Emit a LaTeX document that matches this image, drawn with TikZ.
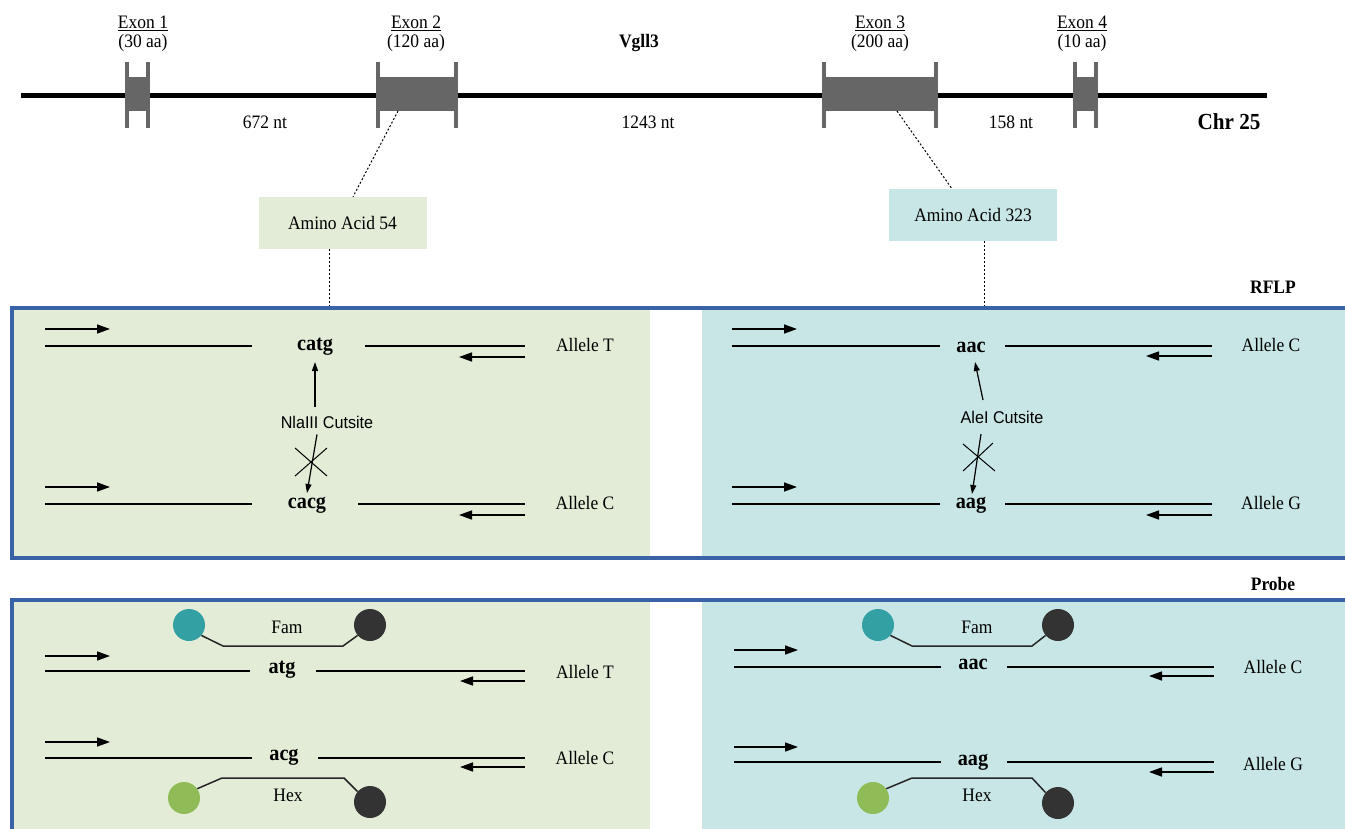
\documentclass[tikz,border=0pt]{standalone}
\usepackage{fontspec}
\setmainfont[FakeStretch=0.92]{Liberation Serif}
\newfontfamily\arialfont[FakeStretch=0.95]{Liberation Sans}
\usetikzlibrary{arrows.meta}
\definecolor{panelgreen}{HTML}{E2ECD6}
\definecolor{panelblue}{HTML}{C8E6E6}
\definecolor{frameblue}{HTML}{3A62A7}
\definecolor{exongray}{HTML}{666666}
\definecolor{famteal}{HTML}{33A0A3}
\definecolor{hexgreen}{HTML}{8FBC57}
\definecolor{quench}{HTML}{333333}
\begin{document}
\begin{tikzpicture}[x=1pt,y=-1pt,
  lbl/.style={font=\fontsize{19}{21}\selectfont, inner sep=0pt},
  blbl/.style={font=\fontsize{19}{21}\selectfont\bfseries, inner sep=0pt},
  chrlbl/.style={font=\fontsize{23}{25}\selectfont\bfseries, inner sep=0pt},
  seq/.style={font=\fontsize{22}{24}\selectfont\bfseries, inner sep=0pt},
  cutlbl/.style={font=\arialfont\fontsize{17}{19}\selectfont, inner sep=0pt},
  strand/.style={line width=1.5pt},
  primer/.style={line width=1.5pt,-{Triangle[length=13pt,width=9pt]}},
  cutarrow/.style={line width=1.2pt,-{Triangle[length=9pt,width=6pt]}},
  xmark/.style={line width=1pt},
  dotline/.style={line width=1pt, dash pattern=on 2pt off 2pt},
  aabox/.style={minimum height=52pt, inner sep=0pt, font=\fontsize{19}{21}\selectfont},
  probeline/.style={line width=1.5pt, draw=black!85},
  fam/.style={circle, fill=famteal, minimum size=32pt, inner sep=0pt},
  hex/.style={circle, fill=hexgreen, minimum size=32pt, inner sep=0pt},
  qdot/.style={circle, fill=quench, minimum size=32pt, inner sep=0pt},
  exonfill/.style={fill=exongray}
]
\useasboundingbox (0,0) rectangle (1345,828);
\fill[white] (0,0) rectangle (1345,828);
\clip (0,0) rectangle (1345,828);

% ---------------- gene model ----------------
\draw[line width=5pt] (21,95) coordinate (chrL) -- (1267,95) coordinate (chrR);
\foreach \a/\b in {125/150, 376/458, 822/938, 1073/1098}{
  \fill[exonfill] (\a,77) rectangle (\b,111);
  \fill[exonfill] (\a,62) rectangle (\a+4,128);
  \fill[exonfill] (\b-4,62) rectangle (\b,128);
}
\node[lbl] (ex1) at (143,23) {\underline{Exon 1}};
\node[lbl] (ex1a) at (143,43) {(30 aa)};
\node[lbl] (ex2) at (416,23) {\underline{Exon 2}};
\node[lbl] (ex2a) at (416,43) {(120 aa)};
\node[lbl] (ex3) at (880,23) {\underline{Exon 3}};
\node[lbl] (ex3a) at (880,43) {(200 aa)};
\node[lbl] (ex4) at (1082,23) {\underline{Exon 4}};
\node[lbl] (ex4a) at (1082,43) {(10 aa)};
\node[blbl] (gene) at (639,43) {Vgll3};
\node[lbl] (in1) at (265,122) {672 nt};
\node[lbl] (in2) at (648,122) {1243 nt};
\node[lbl] (in3) at (1011,122) {158 nt};
\node[chrlbl] (chr) at (1229,122) {Chr 25};

% amino acid boxes
\node[aabox, fill=panelgreen, minimum width=168pt] (aa54) at (342.5,223) {Amino Acid 54};
\node[aabox, fill=panelblue, minimum width=168pt] (aa323) at (973,215) {Amino Acid 323};
\coordinate (e2b) at (398,111);
\coordinate (e3b) at (897,111);
\draw[dotline] (e2b) -- (aa54.north -| 353,0);
\draw[dotline] (e3b) -- (aa323.north -| 952,0);
\coordinate (rflpTopL) at (329,308);
\coordinate (rflpTopR) at (984,308);
\draw[dotline] (aa54.south -| rflpTopL) -- (rflpTopL);
\draw[dotline] (aa323.south -| rflpTopR) -- (rflpTopR);

% ---------------- RFLP panel ----------------
\node[blbl] (rflp) at (1273,287) {RFLP};
\fill[panelgreen] (14,310) rectangle (650,556);
\fill[panelblue] (702,310) rectangle (1350,556);
\draw[frameblue, line width=4.5pt] (12,308) rectangle (1370,558);

% left RFLP
\draw[primer] (45,329) -- (110,329);
\draw[strand] (45,346) -- (252,346);
\node[seq] (s1) at (315,347) {catg};
\draw[strand] (365,346) -- (525,346);
\draw[primer] (525,357) -- (459,357);
\node[lbl] (al1) at (585,345) {Allele T};
\node[cutlbl] (cut1) at (327,422) {NlaIII Cutsite};
\draw[cutarrow] (cut1.north -| 315,0) ++(0,-9) -- (315,362);
\draw[cutarrow] ([xshift=-10pt,yshift=-6pt]cut1.south) -- (307,493);
\draw[xmark] (295,448) -- (327,476);
\draw[xmark] (295,476) -- (327,448);
\draw[primer] (45,487) -- (110,487);
\draw[strand] (45,504) -- (252,504);
\node[seq] (s2) at (307,505) {cacg};
\draw[strand] (358,504) -- (525,504);
\draw[primer] (525,515) -- (459,515);
\node[lbl] (al2) at (585,503) {Allele C};

% right RFLP
\draw[primer] (732,329) -- (797,329);
\draw[strand] (732,346) -- (940,346);
\node[seq] (s3) at (971,347) {aac};
\draw[strand] (1005,346) -- (1212,346);
\draw[primer] (1212,356) -- (1146,356);
\node[lbl] (al3) at (1271,345) {Allele C};
\node[cutlbl] (cut2) at (1002,417) {AleI Cutsite};
\draw[cutarrow] (983,400) -- (975,362);
\draw[cutarrow] (981,434) -- (972,494);
\draw[xmark] (963,444) -- (995,471);
\draw[xmark] (963,471) -- (993,443);
\draw[primer] (732,487) -- (797,487);
\draw[strand] (732,504) -- (940,504);
\node[seq] (s4) at (971,505) {aag};
\draw[strand] (1005,504) -- (1212,504);
\draw[primer] (1212,515) -- (1146,515);
\node[lbl] (al4) at (1271,503) {Allele G};

% ---------------- Probe panel ----------------
\node[blbl] (probe) at (1273,584) {Probe};
\fill[panelgreen] (14,602) rectangle (650,840);
\fill[panelblue] (702,602) rectangle (1350,840);
\draw[frameblue, line width=4.5pt] (12,600) rectangle (1370,860);

% left probe
\node[fam] (f1) at (189,625) {};
\node[qdot] (q1) at (370,625) {};
\node[lbl] (fam1) at (287,627) {Fam};
\draw[probeline] (f1.-40) -- (223,646) -- (343,646) -- (q1.220);
\draw[primer] (45,656) -- (110,656);
\draw[strand] (45,671) -- (250,671);
\node[seq] (s5) at (282,670) {atg};
\draw[strand] (316,671) -- (525,671);
\draw[primer] (525,681) -- (460,681);
\node[lbl] (al5) at (585,672) {Allele T};
\draw[primer] (45,742) -- (110,742);
\draw[strand] (45,758) -- (252,758);
\node[seq] (s6) at (284,757) {acg};
\draw[strand] (318,758) -- (525,758);
\draw[primer] (525,767) -- (460,767);
\node[lbl] (al6) at (585,758) {Allele C};
\node[hex] (h1) at (184,798) {};
\node[qdot] (q2) at (370,802) {};
\node[lbl] (hex1) at (288,795) {Hex};
\draw[probeline] (h1.35) -- (222,778) -- (344,778) -- (q2.140);

% right probe
\node[fam] (f2) at (878,625) {};
\node[qdot] (q3) at (1058,625) {};
\node[lbl] (fam2) at (977,627) {Fam};
\draw[probeline] (f2.-40) -- (912,646) -- (1032,646) -- (q3.220);
\draw[primer] (734,650) -- (798,650);
\draw[strand] (734,667) -- (941,667);
\node[seq] (s7) at (973,664) {aac};
\draw[strand] (1007,667) -- (1214,667);
\draw[primer] (1214,676) -- (1149,676);
\node[lbl] (al7) at (1273,667) {Allele C};
\draw[primer] (734,747) -- (798,747);
\draw[strand] (734,762) -- (941,762);
\node[seq] (s8) at (973,762) {aag};
\draw[strand] (1007,762) -- (1214,762);
\draw[primer] (1214,772) -- (1149,772);
\node[lbl] (al8) at (1273,764) {Allele G};
\node[hex] (h2) at (873,798) {};
\node[qdot] (q4) at (1058,803) {};
\node[lbl] (hex2) at (977,795) {Hex};
\draw[probeline] (h2.35) -- (912,778) -- (1032,778) -- (q4.140);
\end{tikzpicture}
\end{document}
